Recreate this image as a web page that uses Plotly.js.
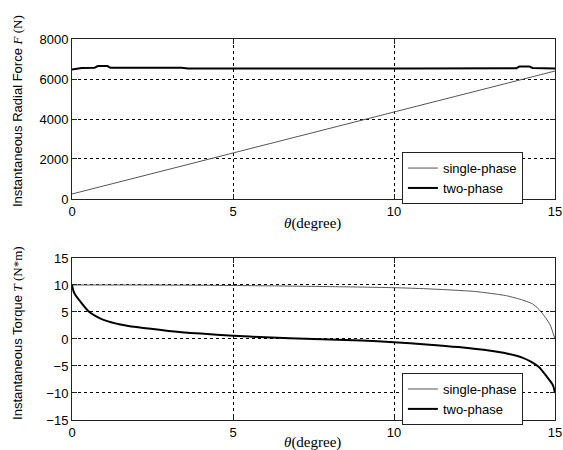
<!DOCTYPE html>
<html>
<head>
<meta charset="utf-8">
<script src="https://cdn.plot.ly/plotly-3.0.1.min.js"></script>
<style>html,body{margin:0;padding:0;background:#fff;}#chart{width:563px;height:450px;}</style>
</head>
<body>
<div id="chart"></div>
<script>
// ---- Data ----
// Radial force, single-phase
const forceSingleTheta = [0, 1, 2, 3, 4, 5, 6, 7, 8, 9, 10, 11, 12, 13, 14, 15];
const forceSingleVal   = [250, 660, 1070, 1480, 1890, 2300, 2710, 3120, 3530, 3950, 4370, 4790, 5200, 5600, 6000, 6400];
// Radial force, two-phase
const forceTwoTheta = [0, 0.3, 0.7, 0.8, 1.1, 1.2, 3.4, 3.6, 10.5, 13.8, 13.9, 14.2, 14.3, 15];
const forceTwoVal   = [6480, 6550, 6560, 6650, 6650, 6560, 6560, 6520, 6520, 6540, 6630, 6630, 6550, 6520];
// Torque, single-phase
const torqueSingleTheta = [0, 2, 4, 6, 8, 10, 11, 12, 12.5, 13, 13.5, 14, 14.3, 14.5, 14.7, 14.85, 15];
const torqueSingleVal   = [10, 10, 9.95, 9.85, 9.7, 9.5, 9.3, 9.0, 8.8, 8.45, 8.0, 7.2, 6.5, 5.5, 4.0, 2.6, 0];
// Torque, two-phase
const torqueTwoTheta = [0, 0.05, 0.1, 0.25, 0.5, 0.75, 1, 1.5, 2, 3, 4, 5, 6, 7.5, 9, 10, 11, 12, 13, 13.5, 14, 14.25, 14.5, 14.75, 14.9, 14.95, 15];
const torqueTwoVal   = [10, 8.8, 8.2, 7.0, 5.2, 4.2, 3.5, 2.7, 2.2, 1.5, 1.0, 0.6, 0.3, 0, -0.3, -0.6, -1.0, -1.5, -2.2, -2.7, -3.5, -4.2, -5.2, -7.0, -8.2, -8.8, -10];

const xTicks = [0, 5, 10, 15];
const seriesNames = ['single-phase', 'two-phase'];

const sans = 'Liberation Sans, Arial, sans-serif';
const serif = 'Liberation Serif, Times New Roman, serif';

const thin = {color: '#555', width: 1};
const thick = {color: '#000', width: 2};

const traces = [
  {x: forceSingleTheta, y: forceSingleVal, xaxis: 'x', yaxis: 'y', mode: 'lines', name: seriesNames[0], line: thin, legend: 'legend'},
  {x: forceTwoTheta, y: forceTwoVal, xaxis: 'x', yaxis: 'y', mode: 'lines', name: seriesNames[1], line: thick, legend: 'legend'},
  {x: torqueSingleTheta, y: torqueSingleVal, xaxis: 'x2', yaxis: 'y2', mode: 'lines', name: seriesNames[0], line: Object.assign({shape: 'spline', smoothing: 0.6}, thin), legend: 'legend2'},
  {x: torqueTwoTheta, y: torqueTwoVal, xaxis: 'x2', yaxis: 'y2', mode: 'lines', name: seriesNames[1], line: Object.assign({shape: 'spline', smoothing: 0.6}, thick), legend: 'legend2'}
];

function xax(anchor) {
  return {
    anchor: anchor, domain: [0, 1], range: [0, 15], tickvals: xTicks,
    ticks: 'inside', ticklen: 5, tickcolor: '#222', mirror: 'ticks',
    showline: true, linecolor: '#222', linewidth: 1,
    showgrid: true, gridcolor: '#000', gridwidth: 1, griddash: '3px,3px',
    zeroline: false, tickfont: {family: sans, size: 13, color: '#000'},
    automargin: false, fixedrange: true
  };
}
function yax(anchor, domain, range, dtick) {
  return {
    anchor: anchor, domain: domain, range: range, dtick: dtick, tick0: 0,
    ticks: 'inside', ticklen: 5, tickcolor: '#222', mirror: 'ticks',
    showline: true, linecolor: '#222', linewidth: 1,
    showgrid: true, gridcolor: '#000', gridwidth: 1, griddash: '3px,3px',
    zeroline: false, tickfont: {family: sans, size: 13, color: '#000'},
    automargin: false, fixedrange: true
  };
}

const legendStyle = {
  bgcolor: '#fff', bordercolor: '#222', borderwidth: 1,
  font: {family: sans, size: 13, color: '#000'},
  xanchor: 'left', yanchor: 'top', tracegroupgap: 0, itemwidth: 30,
  entrywidth: 88, entrywidthmode: 'pixels'
};

const layout = {
  width: 563, height: 450,
  margin: {l: 72, r: 8, t: 0, b: 0},
  paper_bgcolor: '#fff', plot_bgcolor: '#fff',
  showlegend: true,
  xaxis: xax('y'),
  yaxis: yax('x', [0.5578, 0.9133], [0, 8000], 2000),
  xaxis2: xax('y2'),
  yaxis2: yax('x2', [0.0667, 0.4267], [-15, 15], 5),
  legend: Object.assign({x: 0.683, y: 0.662}, legendStyle),
  legend2: Object.assign({x: 0.683, y: 0.171}, legendStyle),
  annotations: [
    {xref: 'paper', yref: 'paper', x: -0.114, y: 0.753, xanchor: 'center', yanchor: 'middle', textangle: -90, showarrow: false,
     text: 'Instantaneous Radial Force <span style="font-family:Liberation Serif"><i>F</i> (N)</span>', font: {family: sans, size: 13, color: '#000'}},
    {xref: 'paper', yref: 'paper', x: -0.114, y: 0.26, xanchor: 'center', yanchor: 'middle', textangle: -90, showarrow: false,
     text: 'Instantaneous Torque <span style="font-family:Liberation Serif"><i>T</i> (N*m)</span>', font: {family: sans, size: 13, color: '#000'}},
    {xref: 'paper', yref: 'paper', x: 0.497, y: 0.504, xanchor: 'center', yanchor: 'middle', showarrow: false,
     text: '<i>θ</i>(degree)', font: {family: serif, size: 15, color: '#000'}},
    {xref: 'paper', yref: 'paper', x: 0.497, y: 0.0156, xanchor: 'center', yanchor: 'middle', showarrow: false,
     text: '<i>θ</i>(degree)', font: {family: serif, size: 15, color: '#000'}}
  ]
};

Plotly.newPlot('chart', traces, layout, {displayModeBar: false, staticPlot: true});
</script>
</body>
</html>
